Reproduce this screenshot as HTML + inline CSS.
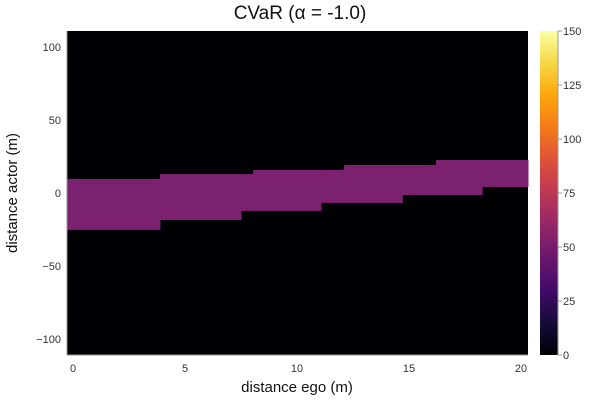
<!DOCTYPE html>
<html><head><meta charset="utf-8"><style>
body{margin:0;background:#fff}
svg text{font-family:"Liberation Sans","DejaVu Sans",sans-serif}
</style></head><body>
<svg id="c" width="600" height="400">
<defs><linearGradient id="inf" x1="0" y1="1" x2="0" y2="0">
<stop offset="0" stop-color="#000004"/><stop offset="0.1" stop-color="#160b39"/><stop offset="0.2" stop-color="#420a68"/><stop offset="0.3" stop-color="#6a176e"/><stop offset="0.4" stop-color="#932667"/><stop offset="0.5" stop-color="#bc3754"/><stop offset="0.6" stop-color="#dd513a"/><stop offset="0.7" stop-color="#f37819"/><stop offset="0.8" stop-color="#fca50a"/><stop offset="0.9" stop-color="#f6d746"/><stop offset="1" stop-color="#fcffa4"/></linearGradient></defs>
</svg>
<script>
const xBreaks=[3.88,8.04,12.1,16.2];
const upperVals=[9.6,13,15.8,19.2,22.6];
const lowerBreaks=[3.88,7.5,11.07,14.7,18.26];
const lowerVals=[-25.3,-18.5,-12.3,-6.8,-1.4,4.1];
const cellValue=54;
const xTicks=[0,5,10,15,20];
const yTicks=[-100,-50,0,50,100];
const cbTicks=[0,25,50,75,100,125,150];
const X0=-0.27,X1=20.31,Y0=-111,Y1=111;
const L=67,R=528,T=31,B=355;
const sx=v=>L+(v-X0)/(X1-X0)*(R-L);
const sy=v=>B-(v-Y0)/(Y1-Y0)*(B-T);
const svg=document.getElementById('c');const NS='http://www.w3.org/2000/svg';
function mk(t,a,p){const e=document.createElementNS(NS,t);for(const k in a)e.setAttribute(k,a[k]);(p||svg).appendChild(e);return e;}
const bg=mk('rect',{x:L,y:T,width:R-L,height:B-T,fill:'#000004'});


function seg(br,vals,x){let i=0;while(i<br.length&&x>=br[i])i++;return vals[i];}
const all=[X0,...new Set([...xBreaks,...lowerBreaks])].sort((a,b)=>a-b);all.push(X1);
for(let i=0;i<all.length-1;i++){const m=(all[i]+all[i+1])/2;const u=seg(xBreaks,upperVals,m),lo=seg(lowerBreaks,lowerVals,m);
const r=mk('rect',{x:sx(all[i]),y:sy(u),width:sx(all[i+1])-sx(all[i])+0.5,height:sy(lo)-sy(u),fill:'#7b2170'});

}
mk('line',{x1:L,y1:T,x2:L,y2:B,stroke:'#999','stroke-width':1});
mk('line',{x1:L,y1:B,x2:R,y2:B,stroke:'#999','stroke-width':1});
xTicks.forEach(v=>{const t=mk('text',{x:sx(v),y:372,'text-anchor':'middle','font-size':11,fill:'#333'});t.textContent=v;

});
yTicks.forEach(v=>{const t=mk('text',{x:61,y:sy(v)+4,'text-anchor':'end','font-size':11,fill:'#333'});t.textContent=v===0?'0':(v<0?'−'+(-v):v);

});
const cb=mk('rect',{x:540,y:31,width:18,height:324,fill:'url(#inf)'});


mk('line',{x1:558,y1:31,x2:558,y2:355,stroke:'#999'});
cbTicks.forEach(v=>{const y=355-v/150*324;mk('line',{x1:558,y1:y,x2:562,y2:y,stroke:'#999'});
const t=mk('text',{x:563,y:y+4,'font-size':11,fill:'#333'});t.textContent=v;

});
const ti=mk('text',{x:300,y:19,'text-anchor':'middle','font-size':19,fill:'#111'});ti.textContent='CVaR (α = -1.0)';


const xl=mk('text',{x:297,y:392,'text-anchor':'middle','font-size':15,fill:'#111'});xl.textContent='distance ego (m)';


const yl=mk('text',{x:17,y:193,'text-anchor':'middle','font-size':15,fill:'#111',transform:'rotate(-90 17 193)'});yl.textContent='distance actor (m)';


</script>
</body></html>
